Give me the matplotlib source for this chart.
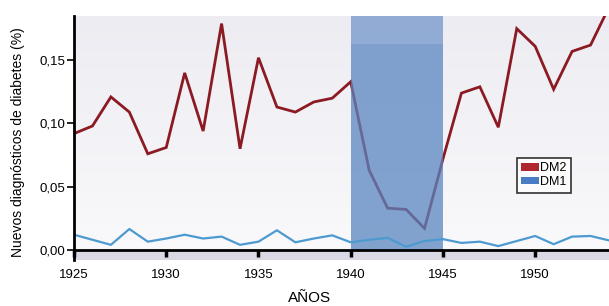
import numpy as np
import matplotlib
matplotlib.use('Agg')
import matplotlib.pyplot as plt
from matplotlib.patches import Patch

plt.rcParams['font.family'] = ['Liberation Sans', 'DejaVu Sans']

# data
years = list(range(1925, 1955))
dm2 = [0.092, 0.098, 0.121, 0.109, 0.076, 0.081, 0.140, 0.094, 0.179, 0.080,
       0.152, 0.113, 0.109, 0.117, 0.120, 0.133, 0.063, 0.033, 0.032, 0.017,
       0.072, 0.124, 0.129, 0.097, 0.175, 0.161, 0.127, 0.157, 0.162, 0.192]
dm1 = [0.012, 0.008, 0.004, 0.0165, 0.0065, 0.009, 0.012, 0.009, 0.0105, 0.004,
       0.0065, 0.0155, 0.006, 0.009, 0.0115, 0.006, 0.008, 0.0095, 0.0025, 0.007,
       0.0085, 0.0055, 0.0065, 0.003, 0.007, 0.011, 0.0045, 0.0105, 0.011, 0.0075]
war = (1940, 1945)
yticks = [0, 0.05, 0.10, 0.15]
ytick_labels = ['0,00', '0,05', '0,10', '0,15']
xticks = [1925, 1930, 1935, 1940, 1945, 1950]

fig = plt.figure(figsize=(6.09, 3.06), dpi=100)
ax = fig.add_axes([74/609, 1-260/306, 1-74/609, (260-16)/306])

ymin, ymax = -0.008, 0.185
ax.set_xlim(1925, 1954)
ax.set_ylim(ymin, ymax)

# background gradient + band under the axis
grad = np.linspace(0, 1, 256).reshape(-1, 1)
ax.imshow(grad, extent=[0, 1, 0, 1], transform=ax.transAxes, aspect='auto',
          cmap=matplotlib.colors.LinearSegmentedColormap.from_list('bg', ['#fafafc', '#ececf2']),
          origin='lower', zorder=0)
ax.axhspan(ymin, 0, color='#d9d9e6', zorder=1, lw=0)

ax.plot(years, dm2, color='#8b1a22', lw=2.0, zorder=2, solid_joinstyle='miter')
ax.axvspan(war[0], war[1], ymin=(0 - ymin)/(ymax - ymin), ymax=(0.163 - ymin)/(ymax - ymin),
           color='#5a85c0', alpha=0.75, lw=0, zorder=3)
ax.axvspan(war[0], war[1], ymin=(0.163 - ymin)/(ymax - ymin), ymax=1,
           color='#7396cb', alpha=0.75, lw=0, zorder=3)
ax.plot(years, dm1, color='#4d9ad0', lw=1.6, zorder=4)

ax.spines['top'].set_visible(False)
ax.spines['right'].set_visible(False)
ax.spines['bottom'].set_position(('data', 0))
ax.spines['bottom'].set_linewidth(2)
ax.spines['left'].set_linewidth(2)
ax.spines['bottom'].set_zorder(5)
ax.spines['left'].set_zorder(5)

ax.set_yticks(yticks)
ax.set_yticklabels(ytick_labels)
ax.set_xticks(xticks)
ax.tick_params(axis='y', direction='out', length=5, width=1.2, pad=1.5, labelsize=9.5)
ax.tick_params(axis='x', direction='out', length=5, width=2.5, pad=9, labelsize=9.5)

handles = [Patch(facecolor='#b0262e', edgecolor='none', label='DM2'),
           Patch(facecolor='#4a7cc4', edgecolor='none', label='DM1')]
leg = ax.legend(handles=handles, loc='upper left', bbox_to_anchor=(0.828, 0.418),
                fontsize=9, frameon=True, fancybox=False, borderpad=0.35,
                handlelength=1.4, handleheight=0.5, handletextpad=0.1,
                labelspacing=0.15, borderaxespad=0)
leg.get_frame().set_edgecolor('black')
leg.get_frame().set_linewidth(1.2)
leg.set_zorder(6)

fig.text(18.5/609, 1-142/306, 'Nuevos diagnósticos de diabetes (%)', rotation=90,
         ha='center', va='center', fontsize=10)
fig.text(310/609, 1-298/306, 'AÑOS', ha='center', va='center', fontsize=11)

fig.savefig('out.png', dpi=100)
